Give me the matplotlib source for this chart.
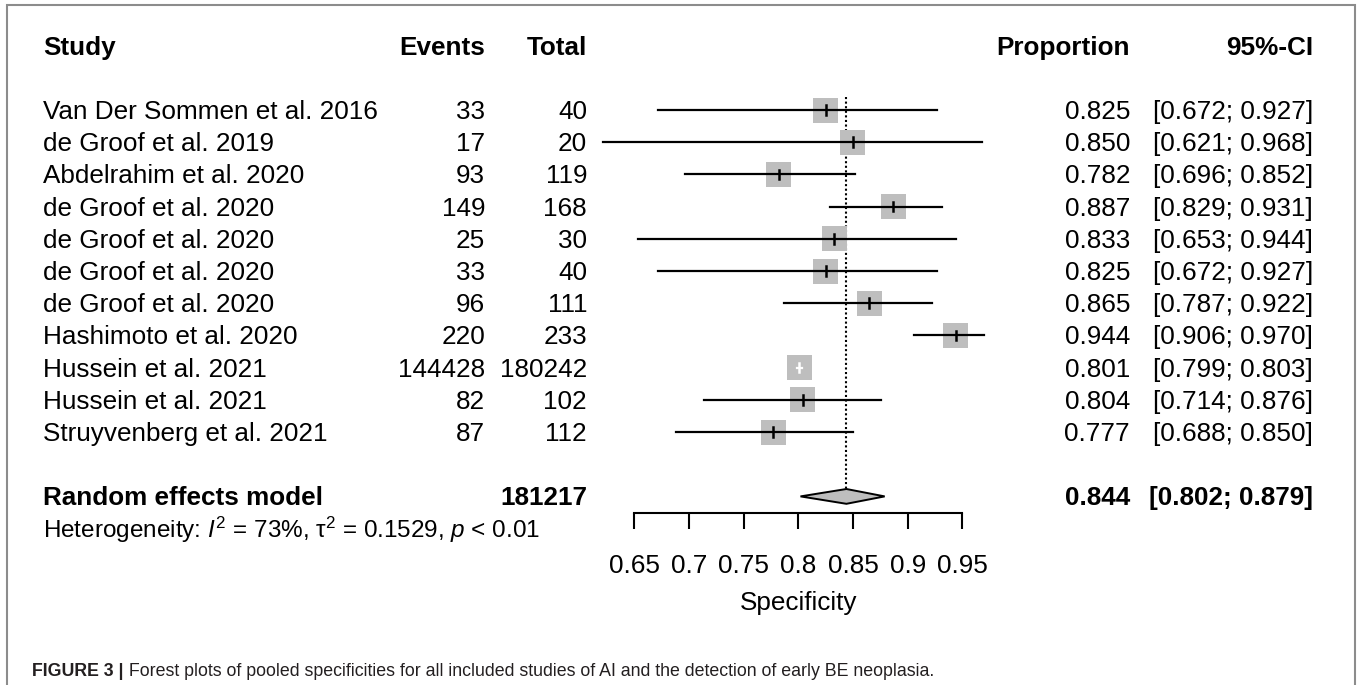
import matplotlib
matplotlib.use("Agg")
import matplotlib.pyplot as plt
from matplotlib.patches import Rectangle, Polygon
from matplotlib.transforms import blended_transform_factory

plt.rcParams['font.family'] = ['Liberation Sans', 'DejaVu Sans']
plt.rcParams['mathtext.fontset'] = 'custom'
plt.rcParams['mathtext.rm'] = 'Liberation Sans'
plt.rcParams['mathtext.it'] = 'Liberation Sans:italic'
plt.rcParams['mathtext.bf'] = 'Liberation Sans:bold'

# study level data
studies = ["Van Der Sommen et al. 2016", "de Groof et al. 2019", "Abdelrahim et al. 2020",
           "de Groof et al. 2020", "de Groof et al. 2020", "de Groof et al. 2020",
           "de Groof et al. 2020", "Hashimoto et al. 2020", "Hussein et al. 2021",
           "Hussein et al. 2021", "Struyvenberg et al. 2021"]
events = [33, 17, 93, 149, 25, 33, 96, 220, 144428, 82, 87]
totals = [40, 20, 119, 168, 30, 40, 111, 233, 180242, 102, 112]
props = [0.825, 0.850, 0.782, 0.887, 0.833, 0.825, 0.865, 0.944, 0.801, 0.804, 0.777]
ci_low = [0.672, 0.621, 0.696, 0.829, 0.653, 0.672, 0.787, 0.906, 0.799, 0.714, 0.688]
ci_high = [0.927, 0.968, 0.852, 0.931, 0.944, 0.927, 0.922, 0.970, 0.803, 0.876, 0.850]

# random effects summary
pooled = 0.844
pooled_low = 0.802
pooled_high = 0.879
pooled_total = 181217
i2 = 73
tau2 = 0.1529
p_text = "< 0.01"

ticks = [0.65, 0.7, 0.75, 0.8, 0.85, 0.9, 0.95]
xlabel = "Specificity"
caption_head = "FIGURE 3 |"
caption_body = " Forest plots of pooled specificities for all included studies of AI and the detection of early BE neoplasia."

W, H = 1357, 685
FS = 18.8

# layout: pixels per unit on the proportion scale, pixels per row
x0_pix, x_scale = 634.3, 1093.3
y0_pix, row_h = 110, 32.2

fig = plt.figure(figsize=(W / 100, H / 100), dpi=100)
ax = fig.add_axes([0, 0, 1, 1])
ax.axis('off')
ax.set_xlim(ticks[0] - x0_pix / x_scale, ticks[0] + (W - x0_pix) / x_scale)
ax.set_ylim((H - y0_pix) / row_h, -y0_pix / row_h)

tr = blended_transform_factory(fig.transFigure, ax.transData)
base = 0.28  # baseline offset so that caps sit centred on the row


def col_text(xpix, row, s, ha, bold=False, size=FS):
    ax.text(xpix / W, row + base, s, transform=tr, ha=ha, va='baseline',
            fontsize=size, fontweight='bold' if bold else 'normal', color='black')


# headers
hdr = -2
col_text(43, hdr, "Study", 'left', True)
col_text(485, hdr, "Events", 'right', True)
col_text(587, hdr, "Total", 'right', True)
col_text(1130, hdr, "Proportion", 'right', True)
col_text(1313, hdr, "95%-CI", 'right', True)

half_w = 12.5 / x_scale
half_h = 12.5 / row_h

for i, name in enumerate(studies):
    col_text(43, i, name, 'left')
    col_text(485, i, str(events[i]), 'right')
    col_text(587, i, str(totals[i]), 'right')
    col_text(1130, i, "%.3f" % props[i], 'right')
    col_text(1313, i, "[%.3f; %.3f]" % (ci_low[i], ci_high[i]), 'right')

    p = props[i]
    ax.add_patch(Rectangle((p - half_w, i - half_h), 2 * half_w, 2 * half_h,
                           facecolor='#bebebe', edgecolor='none', zorder=2))
    inside = ci_low[i] > p - half_w and ci_high[i] < p + half_w
    c = 'white' if inside else 'black'
    ax.plot([ci_low[i], ci_high[i]], [i, i], color=c, lw=1.6, zorder=3)
    ax.plot([p, p], [i - 0.15, i + 0.15], color=c, lw=1.8, zorder=3)

# pooled row
rr = len(studies) + 1
col_text(43, rr, "Random effects model", 'left', True)
col_text(587, rr, str(pooled_total), 'right', True)
col_text(1130, rr, "%.3f" % pooled, 'right', True)
col_text(1313, rr, "[%.3f; %.3f]" % (pooled_low, pooled_high), 'right', True)
col_text(43, rr + 1, "Heterogeneity: $I^2$ = %d%%, τ$^2$ = %s, $p$ %s" % (i2, tau2, p_text),
         'left', size=17.5)

dh = 0.23
ax.add_patch(Polygon([(pooled_low, rr), (pooled, rr - dh), (pooled_high, rr), (pooled, rr + dh)],
                     closed=True, facecolor='#bebebe', edgecolor='black', lw=1.4, zorder=3))
ax.plot([pooled, pooled], [-0.4, rr - dh], color='black', lw=1.5,
        linestyle=(0, (1, 1.2)), zorder=1)

# scale axis under the plot
axis_y = 512.7
ax_x = fig.add_axes([x0_pix / W, 1 - axis_y / H,
                     (ticks[-1] - ticks[0]) * x_scale / W, 0.0001])
ax_x.set_xlim(ticks[0], ticks[-1])
ax_x.patch.set_visible(False)
for s in ['top', 'left', 'right']:
    ax_x.spines[s].set_visible(False)
ax_x.spines['bottom'].set_linewidth(1.5)
ax_x.set_yticks([])
ax_x.set_xticks(ticks)
ax_x.set_xticklabels(["%g" % t for t in ticks])
ax_x.tick_params(axis='x', direction='out', length=11.5, width=1.5,
                 labelsize=FS, pad=18.5)
ax_x.set_xlabel(xlabel, fontsize=FS, labelpad=9)

# frame around the panel
fig.add_artist(Rectangle((7 / W, -0.05), 1348 / W, 1.05 - 5 / H, transform=fig.transFigure,
                         fill=False, edgecolor='#8c8c8c', lw=1.5))

# caption
t1 = fig.text(32 / W, 1 - 676 / H, caption_head, fontsize=12.8, fontweight='bold',
              color='#231f20', va='baseline')
ax.annotate(caption_body, xy=(1, 0), xycoords=t1, va='bottom', ha='left',
            fontsize=12.8, color='#231f20')

fig.savefig("out.png", dpi=100)
